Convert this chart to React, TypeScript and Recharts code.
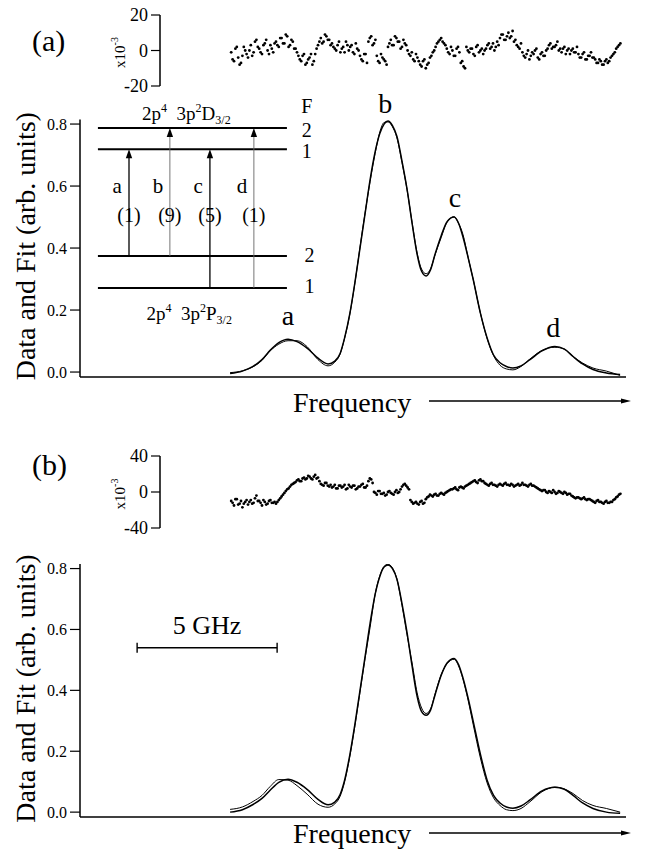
import React from 'react';
import {
  LineChart,
  Line,
  ScatterChart,
  Scatter,
  XAxis,
  YAxis,
  ReferenceLine,
  ReferenceDot,
} from 'recharts';

const SERIF = "'Liberation Serif', 'Times New Roman', serif";
const W = 645;

// frequency grid of the spectra, GHz (5 GHz scale bar)
const freq = [
  5.36, 5.8, 6.18, 6.5, 6.79, 7.1, 7.43, 7.75, 8.11, 8.5,
  8.86, 9.1, 9.29, 9.45, 9.64, 9.82, 10.0, 10.18, 10.36, 10.54,
  10.71, 10.86, 11.0, 11.16, 11.32, 11.5, 11.68, 11.86, 12.04, 12.2,
  12.36, 12.52, 12.68, 12.9, 13.11, 13.36, 13.52, 13.68, 13.86, 14.04,
  14.3, 14.54, 14.77, 15.0, 15.23, 15.46, 15.75, 16.07, 16.5, 16.96,
  17.3, 17.61, 17.95, 18.32, 18.8, 19.29,
];

const dataA = [
  -0.005, 0.003, 0.018, 0.04, 0.07, 0.095, 0.106, 0.098, 0.077, 0.045,
  0.026, 0.035, 0.06, 0.11, 0.19, 0.29, 0.4, 0.51, 0.62, 0.71,
  0.77, 0.8, 0.81, 0.795, 0.76, 0.68, 0.59, 0.48, 0.38, 0.325,
  0.31, 0.33, 0.38, 0.44, 0.485, 0.5, 0.48, 0.435, 0.37, 0.3,
  0.19, 0.11, 0.055, 0.03, 0.018, 0.013, 0.02, 0.04, 0.068, 0.082,
  0.074, 0.05, 0.026, 0.008, -0.003, -0.008,
];
const fitA = [
  -0.002, 0.004, 0.017, 0.038, 0.068, 0.09, 0.101, 0.101, 0.082, 0.04,
  0.02, 0.032, 0.058, 0.109, 0.188, 0.288, 0.403, 0.513, 0.614, 0.705,
  0.775, 0.805, 0.807, 0.791, 0.755, 0.676, 0.589, 0.483, 0.384, 0.332,
  0.317, 0.333, 0.378, 0.434, 0.484, 0.501, 0.48, 0.443, 0.37, 0.3,
  0.19, 0.108, 0.053, 0.022, 0.01, 0.007, 0.018, 0.042, 0.07, 0.08,
  0.074, 0.05, 0.029, 0.013, 0.003, -0.011,
];
const dataB = [
  0.0, 0.008, 0.025, 0.045, 0.072, 0.098, 0.108, 0.098, 0.075, 0.042,
  0.024, 0.033, 0.058, 0.105, 0.19, 0.29, 0.4, 0.51, 0.62, 0.715,
  0.775, 0.805, 0.812, 0.8, 0.765, 0.685, 0.59, 0.48, 0.38, 0.33,
  0.318, 0.335, 0.385, 0.45, 0.49, 0.505, 0.485, 0.44, 0.375, 0.3,
  0.19, 0.105, 0.055, 0.03, 0.017, 0.013, 0.02, 0.04, 0.07, 0.082,
  0.075, 0.055, 0.03, 0.012, 0.0, -0.004,
];
const fitB = [
  0.009, 0.017, 0.035, 0.055, 0.084, 0.107, 0.105, 0.087, 0.059, 0.026,
  0.016, 0.027, 0.052, 0.099, 0.184, 0.284, 0.394, 0.504, 0.607, 0.715,
  0.777, 0.807, 0.814, 0.802, 0.765, 0.679, 0.582, 0.49, 0.392, 0.342,
  0.324, 0.339, 0.388, 0.451, 0.488, 0.502, 0.48, 0.436, 0.368, 0.289,
  0.178, 0.096, 0.047, 0.022, 0.008, 0.005, 0.012, 0.034, 0.067, 0.082,
  0.076, 0.061, 0.038, 0.022, 0.012, 0.0,
];

// residuals (x10^-3): two interleaved sample sets, every 0.1 GHz from 5.40 and from 5.45 GHz
const RES_START = 5.4;
const RES_START_2 = 5.45;
const RES_STEP = 0.1;
const residualA = [
  -1, -6, 2, -8, -3, 0,
  -4, 3, -1, 6, 1, -2, 4, 0, 3, -1,
  5, 2, 7, 4, 8, 3, 5,
  1, -3, -6, -2, -7, -4, -8,
  -2, 3, 7, 5, 8, 6,
  4, 1, 3, -1, 2, 5, 0, 3, -2, 1,
  -3, -6, -2,
  5, 8, 4,
  -3, -7, -4, -6,
  2, 6, 3, 7, 5, 2, 4,
  0, -3, -5, -2,
  -6, -9, -5, -8,
  -4, -1, 2, 5, 7, 4,
  1, -2, 0, -3, 2,
  -7, -9,
  2, -1, 1, -3, 3, 0, -2,
  1, 4, 2, 0, 5,
  7, 9, 6, 10, 8, 5,
  3, 1,
  -1, -4, 0, -3, -2, 1, -5, -1, -3,
  1, 4, 2, 3, 0,
  -1, 2, 0, -2, 1, -1,
  -2, -4, -1, -5, -3, -4,
  -5, -7, -6, -8, -5, -6,
  -3, -1, 2, 4,
];
const residualA2 = [
  -5, 1, -4, -7, 2, -2,
  0, -3, 5, 2, -1, 3, 6, -2, 1, 4,
  3, 7, 4, 9, 2, 6, 1,
  -1, -5, -3, -8, -5, -2, -6,
  1, 5, 4, 9, 6, 3,
  2, 0, 5, 1, -1, 3, 2, -1, 4, 0,
  -5, -2, -7,
  7, 3, 6,
  -6, -2, -5, -8,
  4, 3, 8, 5, 1, 6, 3,
  -2, -1, -6, -4,
  -8, -6, -10, -7,
  -3, 0, 4, 6, 5, 3,
  -1, 2, -3, 1, -1,
  -6, -10,
  0, 1, -2, 2, -1, 1, 0,
  3, 1, 4, 2, 3,
  9, 6, 8, 7, 11, 6,
  2, 4,
  -3, -2, -5, -1, 0, -4, -2, -3, 0,
  3, 1, 2, 5, 1,
  1, -2, 1, 0, -1, 2,
  -4, -2, -5, -3, -1, -4,
  -7, -5, -8, -6, -7, -4,
  -2, 1, 3,
];
const residualB = [
  -10, -15, -8, -13, -17, -11,
  -14, -9, -12, -4, -10, -15, -11, -13, -9, -12,
  -13, -9, -5, -1, 3, 6, 9,
  11, 14, 12, 16, 15, 17, 14, 19, 16,
  9, 7, 10, 6,
  5, 8, 4, 7, 6, 3, 8, 5, 7, 4, 6, 9, 5,
  12, 14,
  0, -3, 1, -2, -4, 0, -1, -3, 2, 0,
  6, 9, 5,
  -9, -13, -11, -14, -10, -12,
  -6, -3, -5, -2, -4, -1, -3, 0, 2,
  3, 5, 2, 6, 4, 7, 9,
  11, 13, 10, 14, 12,
  9, 7, 10, 8, 6, 9, 7, 10, 8, 9, 6, 8, 7, 10, 8, 6, 9, 7, 5,
  3, 1, 2, -1, 0, 2, -2, 1, -1, 0, -3, -2,
  -5, -7, -6, -8, -6, -9, -8,
  -10, -12, -9, -11, -13, -10, -12, -11,
  -8, -5, -2,
];
const residualB2 = [
  -12, -8, -14, -10, -13, -9,
  -11, -13, -7, -10, -12, -9, -14, -10, -12, -11,
  -11, -7, -3, 1, 4, 8, 10,
  13, 12, 15, 14, 18, 15, 17, 15, 12,
  8, 10, 7, 8,
  6, 4, 7, 5, 8, 4, 6, 7, 3, 6, 8, 5, 7,
  15, 10,
  -1, 1, -2, -1, -3, 1, -2, 0, -1, 3,
  8, 7, 3,
  -11, -12, -13, -11, -13, -8,
  -5, -4, -3, -4, -2, -2, -1, 1, 3,
  4, 3, 5, 5, 6, 8, 10,
  12, 11, 13, 12, 10,
  8, 9, 8, 7, 8, 8, 9, 8, 7, 8, 7, 9, 8, 8, 7, 8, 7, 6, 4,
  2, 2, 0, 1, -1, 0, -1, 0, -2, -1, -2, -4,
  -6, -6, -7, -7, -8, -8, -9,
  -11, -10, -11, -12, -11, -12, -11, -9,
  -6, -3,
];

const mainTicks = [0, 0.2, 0.4, 0.6, 0.8];
const resTicksA = [-20, -10, 0, 10, 20];
const resTicksB = [-40, -20, 0, 20, 40];

// energy-level inset of panel (a)
const upperLevels = [{ F: '2', e: 0.787 }, { F: '1', e: 0.719 }];
const lowerLevels = [{ F: '2', e: 0.374 }, { F: '1', e: 0.271 }];
const transitions = [
  { name: 'a', x: 1.75, from: 0.374, to: 0.719, rel: '(1)', strong: true },
  { name: 'b', x: 3.21, from: 0.374, to: 0.787, rel: '(9)', strong: false },
  { name: 'c', x: 4.64, from: 0.271, to: 0.719, rel: '(5)', strong: true },
  { name: 'd', x: 6.21, from: 0.271, to: 0.787, rel: '(1)', strong: false },
];
const peakLabels = [
  { name: 'a', x: 7.43, y: 0.152 },
  { name: 'b', x: 10.9, y: 0.835 },
  { name: 'c', x: 13.39, y: 0.532 },
  { name: 'd', x: 16.9, y: 0.113 },
];

const toRows = (vals: number[]) => freq.map((f, i) => ({ f, v: vals[i] }));
const toResRows = (vals: number[], start: number) =>
  vals.map((r, i) => ({ f: +(start + i * RES_STEP).toFixed(2), r }));

const textAt =
  (content: React.ReactNode, size: number, anchor: string = 'middle') =>
  (p: any) =>
    (
      <text
        x={p.cx}
        y={p.cy}
        textAnchor={anchor}
        fontSize={size}
        style={{ fontFamily: SERIF }}
        fill="#000"
      >
        {content}
      </text>
    );

const arrowShape = (strong: boolean) => (p: any) => {
  const { x1, y1, x2, y2 } = p;
  return (
    <g>
      <line
        x1={x1}
        y1={y1}
        x2={x2}
        y2={y2 + 6}
        stroke={strong ? '#000' : '#666'}
        strokeWidth={strong ? 1.3 : 0.9}
      />
      <polygon points={`${x2},${y2} ${x2 - 3.2},${y2 + 9} ${x2 + 3.2},${y2 + 9}`} fill="#000" />
    </g>
  );
};

const scaleBarShape = (p: any) => (
  <g stroke="#000" strokeWidth={1.4}>
    <line x1={p.x1} y1={p.y1} x2={p.x2} y2={p.y2} />
    <line x1={p.x1} y1={p.y1 - 5} x2={p.x1} y2={p.y1 + 5} />
    <line x1={p.x2} y1={p.y2 - 5} x2={p.x2} y2={p.y2 + 5} />
  </g>
);

const Term = ({ L }: { L: string }) => (
  <>
    2p<tspan dy={-8} fontSize={12}>4</tspan>
    <tspan dy={8}>{'\u00a0\u00a03p'}</tspan>
    <tspan dy={-8} fontSize={12}>2</tspan>
    <tspan dy={8}>{L}</tspan>
    <tspan dy={4} fontSize={12}>3/2</tspan>
  </>
);

const YLabel = (props: any) => {
  const vb = props.viewBox || { y: 0, height: 0 };
  const cx = 35;
  const cy = vb.y + vb.height / 2 - 2;
  return (
    <text
      transform={`rotate(-90 ${cx} ${cy})`}
      x={cx}
      y={cy}
      textAnchor="middle"
      fontSize={28}
      style={{ fontFamily: SERIF }}
      fill="#000"
    >
      Data and Fit (arb. units)
    </text>
  );
};

const FreqLabel = ({ viewBox, dy, arrowDy }: any) => {
  const x0 = viewBox ? viewBox.x : 80;
  const y0 = viewBox ? viewBox.y : 0;
  const ay = y0 + arrowDy;
  return (
    <g>
      <text x={x0 + 213} y={y0 + dy} fontSize={28} style={{ fontFamily: SERIF }} fill="#000">
        Frequency
      </text>
      <line x1={x0 + 349} y1={ay} x2={x0 + 544} y2={ay} stroke="#000" strokeWidth={1.3} />
      <polygon points={`${x0 + 551},${ay} ${x0 + 541},${ay - 2.5} ${x0 + 541},${ay + 2.5}`} fill="#000" />
    </g>
  );
};

const ResTick = ({ x, y, payload, majorStep }: any) => {
  const major = Math.abs(payload.value) % majorStep === 0;
  return (
    <g>
      <line x1={x + (major ? 3 : 6)} y1={y} x2={x + 12} y2={y} stroke="#000" strokeWidth={1.2} />
      {major && (
        <text x={x} y={y} dy="0.35em" textAnchor="end" fontSize={18} style={{ fontFamily: SERIF }} fill="#000">
          {String(payload.value)}
        </text>
      )}
    </g>
  );
};

const ResLabel = ({ viewBox, tag, tagY }: any) => {
  const vb = viewBox || { y: 0, height: 0 };
  const cx = 125;
  const cy = vb.y + vb.height / 2 + 2;
  return (
    <g>
      <text x={32} y={tagY} fontSize={30} style={{ fontFamily: SERIF }} fill="#000">
        {tag}
      </text>
      <text
        transform={`rotate(-90 ${cx} ${cy})`}
        x={cx}
        y={cy}
        textAnchor="middle"
        fontSize={15}
        style={{ fontFamily: SERIF }}
        fill="#000"
      >
        x10<tspan dy={-7} fontSize={10}>-3</tspan>
      </text>
    </g>
  );
};

const Dot = (p: any) => <circle cx={p.cx} cy={p.cy} r={1.4} fill="#000" />;

const Residual = ({ rows, rows2, ticks, majorStep, top, height, marginTop, marginBottom, tag, tagY }: any) => (
  <div style={{ position: 'absolute', left: 0, top, width: W, height }}>
    <ScatterChart width={W} height={height} margin={{ top: marginTop, right: 19, bottom: marginBottom, left: 0 }}>
      <XAxis type="number" dataKey="f" domain={[80 / 28, 19.5]} allowDataOverflow hide height={0} />
      <YAxis
        type="number"
        dataKey="r"
        domain={[ticks[0], ticks[ticks.length - 1]]}
        allowDataOverflow
        ticks={ticks}
        width={160}
        tickSize={9}
        tickMargin={3}
        tickLine={false}
        axisLine={{ stroke: '#000', strokeWidth: 1.5 }}
        tick={(p: any) => <ResTick {...p} majorStep={majorStep} />}
        label={{ content: (p: any) => <ResLabel {...p} tag={tag} tagY={tagY} /> }}
      />
      <Scatter data={rows} shape={Dot} isAnimationActive={false} />
      <Scatter data={rows2} shape={Dot} isAnimationActive={false} />
    </ScatterChart>
  </div>
);

const Spectrum = ({ data, fit, top, height, plotTop, axisHeight, freqDy, arrowDy, children }: any) => (
  <div style={{ position: 'absolute', left: 0, top, width: W, height }}>
    <LineChart width={W} height={height} margin={{ top: plotTop, right: 19, bottom: 0, left: 0 }}>
      <XAxis
        type="number"
        dataKey="f"
        domain={[0, 19.5]}
        allowDataOverflow
        tick={false}
        tickLine={false}
        height={axisHeight}
        axisLine={{ stroke: '#000', strokeWidth: 1.5 }}
        label={{ content: (p: any) => <FreqLabel {...p} dy={freqDy} arrowDy={arrowDy} /> }}
      />
      <YAxis
        type="number"
        domain={[-0.016, 0.815]}
        allowDataOverflow
        ticks={mainTicks}
        tickFormatter={(v: number) => v.toFixed(1)}
        width={80}
        tickSize={10}
        tickMargin={3}
        tick={{ fill: '#000', fontSize: 16, style: { fontFamily: SERIF } }}
        axisLine={{ stroke: '#000', strokeWidth: 1.5 }}
        tickLine={{ stroke: '#000', strokeWidth: 1.2 }}
        label={{ content: YLabel }}
      />
      <Line data={fit} dataKey="v" type="monotone" stroke="#000" strokeWidth={1} dot={false} isAnimationActive={false} />
      <Line data={data} dataKey="v" type="monotone" stroke="#000" strokeWidth={1.5} dot={false} isAnimationActive={false} />
      {children}
    </LineChart>
  </div>
);

export default function App() {
  return (
    <div
      style={{
        position: 'absolute',
        left: 0,
        top: 0,
        width: W,
        height: 850,
        background: '#fff',
        fontFamily: SERIF,
      }}
    >
      <Spectrum
        data={toRows(dataA)}
        fit={toRows(fitA)}
        top={0}
        height={430}
        plotTop={119.4}
        axisHeight={53}
        freqDy={35}
        arrowDy={24}
      >
        {[...upperLevels, ...lowerLevels].map((l) => (
          <ReferenceLine
            key={`lv-${l.e}`}
            segment={[{ x: 0.64, y: l.e }, { x: 7.39, y: l.e }]}
            stroke="#000"
            strokeWidth={2}
            ifOverflow="visible"
          />
        ))}
        {transitions.map((t) => (
          <ReferenceLine
            key={`tr-${t.name}`}
            segment={[{ x: t.x, y: t.from }, { x: t.x, y: t.to }]}
            shape={arrowShape(t.strong)}
            ifOverflow="visible"
          />
        ))}
        {transitions.map((t) => (
          <ReferenceDot key={`tn-${t.name}`} x={t.x - 0.42} y={0.577} r={0} ifOverflow="visible" shape={textAt(t.name, 21)} />
        ))}
        {transitions.map((t) => (
          <ReferenceDot key={`tw-${t.name}`} x={t.x} y={0.484} r={0} ifOverflow="visible" shape={textAt(t.rel, 20)} />
        ))}
        <ReferenceDot x={3.8} y={0.813} r={0} ifOverflow="visible" shape={textAt(<Term L="D" />, 19)} />
        <ReferenceDot x={3.9} y={0.168} r={0} ifOverflow="visible" shape={textAt(<Term L="P" />, 19)} />
        <ReferenceDot x={8.1} y={0.835} r={0} ifOverflow="visible" shape={textAt('F', 20)} />
        <ReferenceDot x={8.1} y={0.758} r={0} ifOverflow="visible" shape={textAt(upperLevels[0].F, 20)} />
        <ReferenceDot x={8.1} y={0.69} r={0} ifOverflow="visible" shape={textAt(upperLevels[1].F, 20)} />
        <ReferenceDot x={8.2} y={0.355} r={0} ifOverflow="visible" shape={textAt(lowerLevels[0].F, 20)} />
        <ReferenceDot x={8.2} y={0.255} r={0} ifOverflow="visible" shape={textAt(lowerLevels[1].F, 20)} />
        {peakLabels.map((p) => (
          <ReferenceDot key={`pk-${p.name}`} x={p.x} y={p.y} r={0} ifOverflow="visible" shape={textAt(p.name, 28)} />
        ))}
      </Spectrum>
      <Residual
        rows={toResRows(residualA, RES_START)}
        rows2={toResRows(residualA2, RES_START_2)}
        ticks={resTicksA}
        majorStep={20}
        top={0}
        height={100}
        marginTop={15}
        marginBottom={14}
        tag="(a)"
        tagY={51}
      />
      <Spectrum
        data={toRows(dataB)}
        fit={toRows(fitB)}
        top={430}
        height={420}
        plotTop={134}
        axisHeight={33}
        freqDy={26}
        arrowDy={16}
      >
        <ReferenceLine
          segment={[{ x: 2.04, y: 0.54 }, { x: 7.04, y: 0.54 }]}
          shape={scaleBarShape}
          ifOverflow="visible"
        />
        <ReferenceDot x={4.54} y={0.586} r={0} ifOverflow="visible" shape={textAt('5 GHz', 26)} />
      </Spectrum>
      <Residual
        rows={toResRows(residualB, RES_START)}
        rows2={toResRows(residualB2, RES_START_2)}
        ticks={resTicksB}
        majorStep={40}
        top={430}
        height={110}
        marginTop={26}
        marginBottom={12}
        tag="(b)"
        tagY={45}
      />
    </div>
  );
}
